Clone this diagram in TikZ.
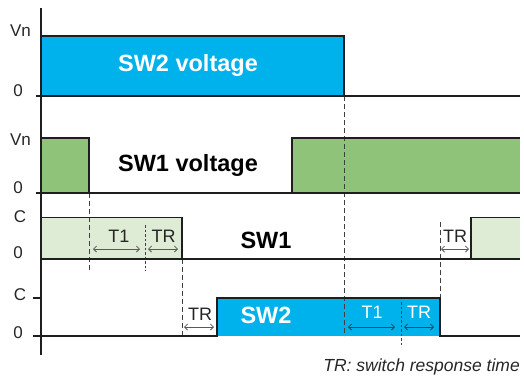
\documentclass[tikz,border=0pt]{standalone}
\usepackage{fontspec}
\setmainfont{Liberation Sans}
\usetikzlibrary{arrows.meta}
\definecolor{sigblue}{RGB}{0,178,236}
\definecolor{siggreen}{RGB}{143,195,122}
\definecolor{siglight}{RGB}{222,235,213}
\definecolor{sigline}{RGB}{30,30,30}
\definecolor{arrdark}{RGB}{30,70,90}
\tikzset{
  sig/.style={line width=1.6pt, draw=sigline},
  axisline/.style={line width=1.8pt, draw=sigline},
  guide/.style={line width=0.8pt, draw=black!75, dash pattern=on 5pt off 3pt},
  fineguide/.style={line width=0.8pt, draw=black!75, dash pattern=on 2.5pt off 2pt},
  span/.style={line width=0.8pt, draw=black!65, {Straight Barb[length=3pt,width=6pt]}-{Straight Barb[length=3pt,width=6pt]}},
  spandark/.style={span, draw=arrdark},
  lvl/.style={anchor=base, inner sep=0pt, font=\fontsize{17}{19}\selectfont, text=black!85},
  tlab/.style={anchor=base, inner sep=0pt, font=\fontsize{18}{20}\selectfont, text=black!85},
  wlab/.style={tlab, text=white},
  title/.style={anchor=base, inner sep=0pt, font=\fontsize{23.5}{26}\selectfont\bfseries},
}
\begin{document}
\begin{tikzpicture}[x=1pt,y=-1pt]
\useasboundingbox (0,0) rectangle (524,376);
% fills
\fill[sigblue] (41,36) rectangle (344,96);
\fill[siggreen] (41,138) rectangle (89,193);
\fill[siggreen] (292,138) rectangle (520,193);
\fill[siglight] (41,217.5) rectangle (182,259);
\fill[siglight] (471,217.5) rectangle (520,259);
\fill[sigblue] (217,298) rectangle (440,336);
% coordinates
\coordinate (ax1) at (41,8);
\coordinate (ax2) at (41,355);
% dashed guides
\coordinate (g1a) at (89,193); \coordinate (g1b) at (89,271);
\coordinate (g2a) at (145,225); \coordinate (g2b) at (145,271);
\coordinate (g3a) at (182,259); \coordinate (g3b) at (182,336);
\coordinate (g4a) at (344,96); \coordinate (g4b) at (344,336);
\coordinate (g5a) at (440,222); \coordinate (g5b) at (440,298);
\coordinate (g6a) at (401,302); \coordinate (g6b) at (401,347);
\draw[guide] (g1a) -- (g1b);
\draw[fineguide] (g2a) -- (g2b);
\draw[guide] (g3a) -- (g3b);
\draw[guide] (g4a) -- (g4b);
\draw[guide] (g5a) -- (g5b);
\draw[fineguide] (g6a) -- (g6b);
% signals
\draw[sig] (41,36) -- (344,36) -- (344,96);
\draw[sig] (36,96) -- (520,96);
\draw[sig] (41,138) -- (89,138) -- (89,193);
\draw[sig] (36,193) -- (520,193);
\draw[sig] (292,193) -- (292,138) -- (520,138);
\draw[sig] (41,217.5) -- (182,217.5) -- (182,259);
\draw[sig] (41,259) -- (520,259);
\draw[sig] (471,259) -- (471,217.5) -- (520,217.5);
\draw[sig] (33,298) -- (41,298);
\draw[sig] (33,336) -- (217,336) -- (217,298) -- (440,298) -- (440,336) -- (520,336);
\draw[axisline] (ax1) -- (ax2);
% level labels
\node[lvl] (v1) at (20.5,36) {Vn};
\node[lvl] (z1) at (18,96) {0};
\node[lvl] (v2) at (20.5,145) {Vn};
\node[lvl] (z2) at (18,193) {0};
\node[lvl] (c3) at (20,222) {C};
\node[lvl] (z3) at (18,258) {0};
\node[lvl] (c4) at (20,300) {C};
\node[lvl] (z4) at (18,338) {0};
% titles
\node[title, text=white] (t1) at (188,71.5) {SW2 voltage};
\node[title, text=black] (t2) at (188,171.5) {SW1 voltage};
\node[title, text=black] (t3) at (266,248) {SW1};
\node[title, text=white] (t4) at (266,323) {SW2};
% spans
\coordinate (a1) at (93,249); \coordinate (a2) at (140,249);
\coordinate (a3) at (148,249); \coordinate (a4) at (178,249);
\coordinate (a5) at (441,249); \coordinate (a6) at (469,249);
\coordinate (a7) at (184,327); \coordinate (a8) at (214,327);
\coordinate (a9) at (348,327); \coordinate (a10) at (395,327);
\coordinate (a11) at (404,327); \coordinate (a12) at (434,327);
\draw[span] (a1) -- (a2);
\draw[span] (a3) -- (a4);
\draw[span] (a5) -- (a6);
\draw[span] (a7) -- (a8);
\draw[spandark] (a9) -- (a10);
\draw[spandark] (a11) -- (a12);
\node[tlab] (l1) at (119,242) {T1};
\node[tlab] (l2) at (163.5,242) {TR};
\node[tlab] (l3) at (455,242) {TR};
\node[tlab] (l4) at (200,320) {TR};
\node[wlab] (l5) at (372,318) {T1};
\node[wlab] (l6) at (419,318) {TR};
% note
\node[anchor=base east, inner sep=0pt, font=\fontsize{17.5}{19}\selectfont\itshape, text=black!85] (note) at (520,371) {TR: switch response time};
\end{tikzpicture}
\end{document}
